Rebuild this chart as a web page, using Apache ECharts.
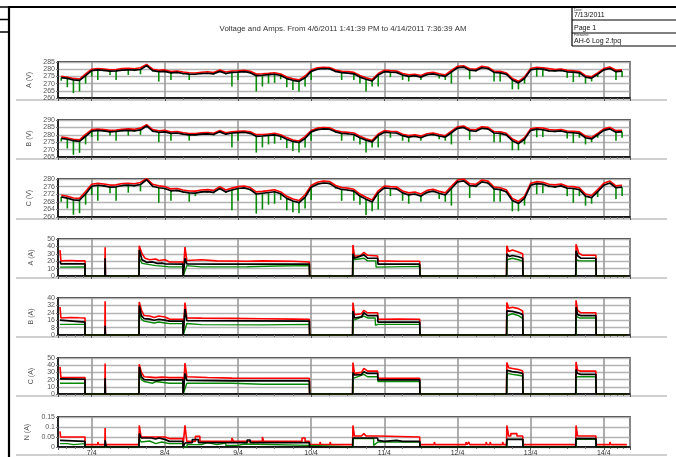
<!DOCTYPE html>
<html>
<head>
<meta charset="utf-8">
<title>Voltage and Amps</title>
<script src="https://cdn.jsdelivr.net/npm/echarts@6/dist/echarts.min.js"></script>
<style>
  html, body { margin: 0; padding: 0; background: #fff; }
  #chart { width: 676px; height: 457px; }
</style>
</head>
<body>
<div id="chart"></div>
<script>
// Log window: 6 Apr 2011 13:41:39 -> 14 Apr 2011 07:36:39 (hours counted from 6 Apr 00:00)
const DAY0 = Date.UTC(2011, 3, 6);
const X_MIN_H = 12.94;
const X_MAX_H = 200.6;

// Voltage logs: one sample every 2 hours starting 6 Apr 14:00
const VOLT_START_H = 14;
const VOLT_STEP_H = 2;

const voltsA_avg = [
  274.2, 273.6, 272.6, 272.2, 275.5,
  279.0, 279.5, 279.2, 278.6, 278.8, 279.4, 279.6, 279.3, 279.8, 282.5, 279.0, 278.3,
  278.5, 277.5, 277.8, 277.0, 276.6, 276.5, 277.0, 277.2, 276.8, 278.5, 277.0, 277.8,
  278.0, 278.3, 277.6, 275.5, 275.8, 276.2, 276.5, 275.6, 273.5, 272.3, 271.6, 274.0,
  278.5, 280.0, 280.5, 280.3, 278.5, 277.6, 277.3, 276.8, 274.5, 273.0, 271.8, 276.0,
  278.3, 278.0, 277.8, 276.0, 275.0, 275.5, 274.5, 276.3, 276.8, 275.8, 275.0, 278.0,
  281.0, 281.5, 279.3, 279.0, 281.0, 280.5, 277.8, 277.5, 276.5, 272.5, 270.5, 273.5,
  279.5, 280.3, 280.0, 279.0, 278.8, 279.2, 278.2, 278.0, 277.5, 274.5, 273.8, 276.5,
  279.5, 280.5, 278.3, 278.6
];
const voltsA_max = [
  275.0, 274.4, 273.6, 273.2, 276.8,
  280.0, 280.4, 280.1, 279.6, 279.8, 280.4, 280.6, 280.3, 281.0, 283.3, 280.0, 279.3,
  279.5, 278.4, 278.8, 278.0, 277.5, 277.4, 277.9, 278.2, 277.7, 279.4, 278.0, 278.7,
  278.9, 279.2, 278.6, 276.6, 276.8, 277.1, 277.5, 276.6, 274.6, 273.3, 272.6, 275.3,
  279.4, 281.0, 281.4, 281.2, 279.4, 278.6, 278.3, 277.8, 275.6, 274.0, 272.8, 277.0,
  279.3, 279.0, 278.8, 277.0, 276.1, 276.5, 275.6, 277.3, 277.8, 276.8, 276.0, 279.1,
  282.0, 282.4, 280.3, 280.0, 282.0, 281.4, 278.8, 278.5, 277.4, 273.6, 271.6, 274.6,
  280.5, 281.3, 281.0, 280.4, 279.8, 280.1, 279.2, 278.9, 278.4, 275.5, 274.8, 277.4,
  280.4, 281.5, 279.3, 279.5
];
const voltsA_min = [
  272.0, 267.5, 263.4, 264.5, 270.0,
  275.0, 272.5, 278.6, 276.0, 272.5, 278.8, 276.0, 278.7, 276.5, 281.9, 278.4, 271.4,
  277.9, 272.5, 277.2, 276.4, 272.5, 275.9, 276.4, 276.6, 276.2, 277.9, 276.4, 268.0,
  272.5, 277.7, 277.0, 264.5, 268.0, 270.0, 270.5, 273.0, 267.5, 265.5, 264.5, 268.0,
  272.5, 279.4, 279.9, 279.7, 277.9, 272.5, 276.7, 272.5, 270.0, 264.5, 268.0, 268.0,
  277.7, 274.5, 277.2, 272.5, 271.5, 274.9, 272.5, 275.7, 276.2, 273.5, 272.5, 270.0,
  280.4, 280.9, 273.0, 278.4, 280.4, 279.9, 271.5, 271.5, 275.9, 266.0, 266.0, 270.0,
  278.9, 274.8, 275.0, 278.4, 278.2, 278.6, 274.0, 271.0, 274.5, 270.0, 271.5, 274.5,
  278.9, 279.9, 272.5, 274.5
];

const voltsB_avg = [
  277.6, 277.0, 276.0, 275.6, 279.0,
  282.5, 283.0, 282.6, 282.0, 282.3, 282.8, 283.0, 282.7, 283.3, 286.0, 282.5, 281.7,
  282.0, 281.0, 281.2, 280.4, 280.0, 280.0, 280.4, 280.6, 280.2, 282.0, 280.4, 281.2,
  281.5, 281.7, 281.0, 279.0, 279.2, 279.6, 280.0, 279.0, 277.0, 275.5, 274.8, 277.5,
  282.0, 283.5, 284.0, 283.8, 282.0, 281.0, 280.7, 280.2, 278.0, 276.4, 275.2, 279.5,
  281.8, 281.4, 281.2, 279.4, 278.4, 279.0, 278.0, 279.7, 280.2, 279.2, 278.4, 281.4,
  284.4, 285.0, 282.8, 282.4, 284.4, 284.0, 281.2, 281.0, 280.0, 276.0, 274.0, 277.0,
  283.0, 283.8, 283.4, 282.5, 282.3, 282.6, 281.6, 281.4, 281.0, 278.0, 277.2, 280.0,
  283.0, 284.0, 281.8, 282.0
];
const voltsB_max = [
  278.5, 277.9, 277.0, 276.6, 280.3,
  283.5, 283.9, 283.5, 283.0, 283.2, 283.8, 284.0, 283.7, 284.5, 286.8, 283.5, 282.7,
  283.0, 281.9, 282.2, 281.4, 280.9, 280.9, 281.3, 281.6, 281.1, 282.9, 281.4, 282.1,
  282.4, 282.6, 282.0, 280.1, 280.2, 280.5, 281.0, 280.0, 278.1, 276.5, 275.8, 278.8,
  282.9, 284.5, 284.9, 284.8, 282.9, 282.0, 281.7, 281.2, 279.1, 277.4, 276.2, 280.5,
  282.8, 282.4, 282.2, 280.4, 279.5, 280.0, 279.1, 280.7, 281.2, 280.2, 279.4, 282.4,
  285.4, 286.0, 283.8, 283.4, 285.4, 285.0, 282.2, 282.0, 281.0, 277.1, 275.1, 278.1,
  284.0, 284.8, 284.6, 283.5, 283.2, 283.6, 282.6, 282.4, 282.0, 279.1, 278.2, 281.0,
  284.0, 285.0, 282.8, 283.0
];
const voltsB_min = [
  275.5, 270.8, 266.5, 267.8, 273.5,
  278.5, 276.0, 282.0, 279.5, 276.0, 282.2, 279.5, 282.1, 280.0, 285.4, 281.9, 275.0,
  281.4, 276.0, 280.6, 279.8, 276.0, 279.4, 279.8, 280.0, 279.6, 281.4, 279.8, 271.5,
  276.0, 281.1, 280.4, 268.0, 271.5, 273.5, 274.0, 276.5, 271.0, 269.0, 268.0, 271.5,
  276.0, 282.9, 283.4, 283.2, 281.4, 276.0, 280.1, 276.0, 273.5, 268.0, 271.5, 271.5,
  281.2, 278.0, 280.6, 276.0, 275.0, 278.4, 276.0, 279.1, 279.6, 277.0, 276.0, 273.5,
  283.8, 284.4, 276.5, 281.8, 283.8, 283.4, 275.0, 275.0, 279.4, 269.5, 269.5, 273.5,
  282.4, 278.3, 278.5, 281.9, 281.7, 282.0, 277.5, 274.5, 278.0, 273.5, 275.0, 278.0,
  282.4, 283.4, 276.0, 278.0
];

const voltsC_avg = [
  270.6, 269.9, 269.0, 268.8, 272.1,
  276.2, 276.7, 276.4, 275.7, 275.9, 276.6, 276.8, 276.5, 277.1, 279.6, 276.2, 275.4,
  275.0, 273.8, 274.0, 273.2, 272.7, 272.6, 273.2, 273.4, 273.0, 275.0, 273.2, 274.2,
  275.0, 275.3, 274.5, 272.1, 272.5, 272.9, 273.3, 272.2, 269.8, 268.4, 267.6, 270.4,
  275.6, 277.3, 277.9, 277.7, 275.6, 274.5, 274.2, 273.6, 271.0, 269.3, 267.9, 272.7,
  275.3, 275.0, 274.8, 272.7, 271.6, 272.1, 271.0, 273.0, 273.6, 272.5, 271.6, 275.0,
  278.5, 279.0, 276.5, 276.2, 278.5, 277.9, 274.8, 274.4, 273.3, 268.7, 267.2, 269.8,
  276.7, 277.6, 277.3, 276.2, 275.9, 276.4, 275.2, 275.0, 274.4, 271.0, 270.2, 273.3,
  276.7, 277.9, 275.4, 275.7
];
const voltsC_max = [
  271.6, 270.9, 270.0, 269.8, 273.4,
  277.2, 277.7, 277.4, 276.8, 276.9, 277.6, 277.8, 277.5, 278.2, 280.3, 277.2, 276.4,
  276.0, 274.8, 275.0, 274.2, 273.7, 273.6, 274.2, 274.4, 274.0, 276.0, 274.2, 275.2,
  276.0, 276.3, 275.5, 273.2, 273.5, 273.9, 274.3, 273.2, 270.9, 269.5, 268.7, 271.7,
  276.6, 278.3, 278.9, 278.7, 276.6, 275.5, 275.2, 274.6, 272.1, 270.4, 269.0, 273.8,
  276.3, 276.0, 275.8, 273.7, 272.7, 273.1, 272.1, 274.0, 274.6, 273.5, 272.7, 276.1,
  279.5, 280.0, 277.5, 277.2, 279.5, 278.9, 275.8, 275.4, 274.3, 269.8, 268.3, 270.9,
  277.7, 278.6, 278.3, 277.2, 276.9, 277.4, 276.2, 276.0, 275.4, 272.1, 271.3, 274.4,
  277.7, 278.9, 276.4, 276.7
];
const voltsC_min = [
  268.0, 264.5, 261.2, 262.0, 266.5,
  271.5, 268.5, 275.8, 272.5, 268.5, 276.0, 272.8, 275.9, 273.5, 279.0, 275.6, 267.5,
  274.4, 268.5, 273.4, 272.6, 268.0, 271.0, 272.6, 272.8, 272.4, 274.4, 272.6, 263.5,
  268.5, 274.7, 273.9, 261.8, 264.0, 266.5, 267.0, 269.0, 263.5, 262.5, 262.0, 264.5,
  269.0, 276.7, 277.3, 277.1, 275.0, 268.5, 273.6, 268.5, 266.5, 261.0, 263.0, 264.0,
  274.7, 271.0, 274.2, 268.5, 267.0, 271.5, 268.0, 272.4, 273.0, 269.5, 268.0, 266.0,
  277.9, 278.4, 270.0, 275.6, 277.9, 277.3, 268.0, 268.0, 272.7, 263.0, 263.0, 266.0,
  276.1, 272.0, 272.5, 275.6, 275.3, 275.8, 271.0, 267.5, 271.0, 266.0, 267.0, 270.5,
  276.1, 277.3, 269.5, 271.0
];

// Current logs: [hour, amps] change points
const ampsA_max = [[13.6,35],[13.9,20.5],[17,21],[19,20.5],[21.8,20.5],[21.8,0],[28.3,0],[28.4,39],[28.5,0],[39.5,0],[39.6,41],[40.5,30],[41.5,24],[43,22],[45,23],[46,21],[48,22],[49.5,19],[53.9,19],[54,0],[54.5,0],[54.6,39],[55.2,21],[60,22],[65,20.5],[75,20],[80,20.5],[90,20],[95.4,19],[95.5,0],[109.6,0],[109.7,42],[110.2,27],[112,27],[113.3,32],[114.5,28],[117.8,27],[117.9,20.5],[125,20],[131.6,20],[131.7,0],[160.1,0],[160.2,41],[160.8,33],[162,35],[163.5,33],[165.4,30],[165.5,0],[182.8,0],[182.9,43],[183.8,31],[185,28],[189.4,28],[189.5,0],[199.6,0]];
const ampsA_avg = [[13.6,20],[13.9,16.4],[21.8,16.4],[21.8,0],[28.3,0],[28.4,24],[28.5,0],[39.5,0],[39.6,35],[40.5,22],[42,18.5],[44,19],[45.5,17],[47,17.5],[48,16.5],[53.9,16],[54,0],[54.5,0],[54.6,24],[55.2,16.4],[65,16],[80,16],[95.4,16],[95.5,0],[109.6,0],[109.7,30],[110.2,24],[113.3,28.6],[114.5,24],[117.8,24],[117.9,16],[131.6,16],[131.7,0],[160.1,0],[160.2,30],[161,26.4],[162,27.7],[164,26],[165.4,24],[165.5,0],[182.8,0],[182.9,34],[183.5,27],[184.5,24],[189.4,24],[189.5,0],[199.6,0]];
const ampsA_min = [[13.6,12],[21.8,12.3],[21.8,0],[39.5,0],[39.6,24],[40.5,17],[42,16],[45,14],[48,13],[49.5,12.3],[53.9,12.3],[54,0],[54.6,0],[55.2,14],[60,12.3],[75,12.5],[85,13.5],[95.4,14],[95.5,0],[109.7,0],[109.8,22],[110.2,19.5],[113.3,24],[114.5,20.5],[117.2,20.5],[117.3,12],[117.9,13],[131.6,13],[131.7,0],[160.2,0],[160.3,22],[162,24],[164,22],[165.4,20],[165.5,0],[182.9,0],[183,22],[184,20.5],[189.4,20.5],[189.5,0],[199.6,0]];

const ampsB_max = [[13.6,30.3],[13.9,18.4],[17,19],[20,18.6],[21.8,18.4],[21.8,0],[28.3,0],[28.4,36.4],[28.5,0],[39.5,0],[39.6,35.7],[40.3,27],[41.2,21],[43,20.5],[44.5,19],[46,20.5],[48,19.5],[49.5,17.2],[53.9,17],[54,0],[54.5,0],[54.6,35],[55.2,18.5],[60,18.2],[70,18],[80,17.6],[90,17.2],[95.4,17],[95.5,0],[109.6,0],[109.7,35],[110.2,22],[112.5,23],[113.3,26.7],[114.5,24],[117.8,24],[117.9,17],[125,17.2],[131.6,17],[131.7,0],[160.1,0],[160.2,35],[160.8,29],[162,30],[164,28.5],[165.4,26],[165.5,0],[182.8,0],[182.9,37.5],[183.4,26.7],[184.5,24],[189.4,24],[189.5,0],[199.6,0]];
const ampsB_avg = [[13.6,16],[13.9,14],[21.8,14],[21.8,0],[28.3,0],[28.4,10],[28.5,0],[39.5,0],[39.6,32],[40.3,21],[41.2,17.6],[43,17.2],[44.5,15.9],[46,17],[48,16],[49.5,15],[53.9,15],[54,0],[54.5,0],[54.6,28],[55.2,15.5],[95.4,15],[95.5,0],[109.6,0],[109.7,26],[110.2,18.4],[112.5,19.5],[113.3,24],[114.5,21],[117.8,21],[117.9,14],[131.6,14],[131.7,0],[160.1,0],[160.2,26],[160.8,24],[162,25.6],[164,24],[165.4,22],[165.5,0],[182.8,0],[182.9,30],[183.4,22],[184.5,21],[189.4,21],[189.5,0],[199.6,0]];
const ampsB_min = [[13.6,11.5],[21.8,11.5],[21.8,0],[39.5,0],[39.6,24],[40.3,17],[41.2,15],[44.5,13],[46,14],[48,13],[49.5,12.3],[53.9,12.3],[54,0],[54.6,0],[55.2,12.5],[60,11.2],[80,11],[95.4,11.5],[95.5,0],[109.7,0],[109.8,15.9],[110.2,15.9],[113.3,20.5],[114.5,18.4],[117.0,18.4],[117.1,10.5],[117.9,11.5],[131.6,11.5],[131.7,0],[160.2,0],[160.3,21],[162,23],[164,21],[165.4,18],[165.5,0],[182.9,0],[183,20],[184,18.4],[189.4,18.4],[189.5,0],[199.6,0]];

const ampsC_max = [[13.6,37.7],[13.9,22.7],[21.8,22.7],[21.8,0],[28.3,0],[28.4,42.3],[28.5,0],[39.5,0],[39.6,41.4],[40.3,30],[41.2,24],[43,23.5],[45,22.7],[47,23.5],[49.5,22.7],[53.9,22.7],[54,0],[54.5,0],[54.6,43],[55.2,24],[62,23],[70,22],[80,21.8],[95.4,21.8],[95.5,0],[109.6,0],[109.7,43.6],[110.2,28.6],[112.5,30],[113.3,35.5],[114.5,31.8],[117.8,31.8],[117.9,21.8],[131.6,21.8],[131.7,0],[160.1,0],[160.2,43.6],[160.8,36.4],[162,35.5],[164,34],[165.4,32],[165.5,0],[182.8,0],[182.9,44.5],[183.4,33],[184.5,31.8],[189.4,31.8],[189.5,0],[199.6,0]];
const ampsC_avg = [[13.6,21],[13.9,20.5],[21.8,20.5],[21.8,0],[28.3,0],[28.4,21.8],[28.5,0],[39.5,0],[39.6,37.7],[40.3,24],[41.2,20],[43,19.5],[45,18.5],[47,19.5],[49.5,19.5],[53.9,19.5],[54,0],[54.5,0],[54.6,28.6],[55.2,19],[70,18.2],[95.4,18.2],[95.5,0],[109.6,0],[109.7,30],[110.2,26.4],[112.5,27],[113.3,31],[114.5,28.6],[117.8,28.6],[117.9,19.5],[131.6,19.5],[131.7,0],[160.1,0],[160.2,33],[160.8,31.8],[162,31],[164,30],[165.4,28.5],[165.5,0],[182.8,0],[182.9,34],[183.4,28.5],[184.5,27.3],[189.4,27.3],[189.5,0],[199.6,0]];
const ampsC_min = [[13.6,15],[21.8,15],[21.8,0],[39.5,0],[39.6,28.6],[40.3,20],[41.2,17.3],[44,15],[45,17.3],[49.5,15],[53.9,15],[54,0],[54.6,0],[55.2,15],[70,15],[80,13.6],[95.4,13.6],[95.5,0],[109.7,0],[109.8,21.8],[110.2,21.8],[113.3,27.3],[114.5,24],[117.8,24],[117.9,17.3],[131.6,17.3],[131.7,0],[160.2,0],[160.3,28.6],[162,27.3],[164,26],[165.4,25],[165.5,0],[182.9,0],[183,24],[189.4,24],[189.5,0],[199.6,0]];

const ampsN_max = [[13.6,0.078],[13.8,0.05],[16,0.05],[16,0.056],[16.6,0.056],[16.6,0.05],[18,0.05],[18,0.056],[18.6,0.056],[18.6,0.05],[21.8,0.05],[21.8,0.012],[26,0.012],[26,0.025],[26.3,0.025],[26.3,0.012],[28.3,0.012],[28.4,0.095],[28.5,0.012],[39.5,0.012],[39.6,0.108],[40.2,0.05],[41,0.05],[41,0.058],[41.6,0.058],[41.6,0.05],[43,0.05],[43,0.058],[43.6,0.058],[43.6,0.05],[45,0.05],[45,0.058],[45.6,0.058],[45.6,0.05],[48,0.05],[49.5,0.042],[53.9,0.042],[54,0.012],[54.5,0.012],[54.6,0.108],[55.2,0.028],[58,0.028],[58,0.053],[59.5,0.053],[59.5,0.028],[70,0.028],[70,0.045],[70.5,0.045],[70.5,0.028],[80,0.028],[80,0.05],[80.4,0.05],[80.4,0.028],[93,0.028],[93,0.045],[94,0.045],[94,0.028],[95.4,0.028],[95.5,0.012],[98.9,0.012],[98.9,0.025],[99.2,0.025],[99.2,0.012],[102.2,0.012],[102.2,0.025],[102.5,0.025],[102.5,0.012],[109.6,0.012],[109.7,0.108],[110.2,0.055],[112.5,0.055],[113.3,0.067],[114,0.055],[117.8,0.055],[117.9,0.05],[131.6,0.05],[131.7,0.012],[136.4,0.012],[136.4,0.025],[136.7,0.025],[136.7,0.012],[146.8,0.012],[146.8,0.025],[147.1,0.025],[147.1,0.012],[147.7,0.012],[147.7,0.025],[148,0.025],[148,0.012],[153.4,0.012],[153.4,0.025],[153.7,0.025],[153.7,0.012],[154.7,0.012],[154.7,0.025],[155,0.025],[155,0.012],[158.8,0.012],[158.8,0.025],[159.1,0.025],[159.1,0.012],[160.1,0.012],[160.2,0.108],[160.8,0.055],[161.5,0.055],[161.5,0.067],[163.5,0.067],[163.5,0.055],[165.4,0.055],[165.5,0.012],[182.8,0.012],[182.9,0.108],[183.4,0.055],[189.4,0.055],[189.5,0.012],[194,0.012],[194,0.025],[194.3,0.025],[194.3,0.012],[199.6,0.012]];
const ampsN_avg = [[13.6,0.033],[14,0.028],[21.8,0.028],[21.8,0],[28.3,0],[28.4,0.033],[28.6,0.012],[29,0],[39.5,0],[39.6,0.067],[40.2,0.045],[42,0.045],[42.5,0.035],[43.5,0.045],[45,0.04],[46,0.045],[48,0.038],[49.5,0.028],[53.9,0.028],[54,0],[54.5,0],[54.6,0.02],[55.2,0.022],[57,0.022],[57,0.037],[59,0.037],[59,0.022],[75,0.022],[75,0.035],[76,0.035],[76,0.022],[95.4,0.022],[95.5,0],[109.6,0],[109.7,0.045],[117.8,0.045],[117.9,0.033],[120,0.028],[124,0.033],[126,0.028],[131.6,0.028],[131.7,0],[160.1,0],[160.2,0.038],[165.4,0.038],[165.5,0],[182.8,0],[182.9,0.042],[189.4,0.042],[189.5,0],[199.6,0]];
const ampsN_min = [[13.6,0.017],[16,0.017],[16,0.012],[18,0.012],[18,0.017],[21.8,0.017],[21.8,0],[39.5,0],[39.6,0.042],[40.2,0.025],[43,0.03],[45,0.017],[47,0.025],[49.5,0.017],[53.9,0.017],[54,0],[55.2,0],[55.3,0.012],[60,0.012],[60,0.022],[62,0.022],[62,0.012],[65,0.012],[65,0.02],[68,0.02],[68,0.008],[72,0.008],[72,0.015],[74,0.015],[74,0.008],[95.4,0.008],[95.5,0],[109.7,0],[109.8,0.042],[116.5,0.042],[116.5,0.008],[117.9,0.025],[131.6,0.025],[131.7,0],[160.2,0],[160.3,0.038],[165.4,0.038],[165.5,0],[182.9,0],[183,0.038],[189.4,0.038],[189.5,0],[199.6,0]];

const RED = '#ff0000', BLACK = '#000000', GREEN = '#078a07';
const toTime = h => DAY0 + h * 3600e3;
const voltSeries = arr => arr.map((v, i) => [toTime(VOLT_START_H + i * VOLT_STEP_H), v]);
// each voltage sample: [time, minimum, average] -> drawn as a drop from the average down to the minimum
const voltDrops = (lo, mid) => lo.map((v, i) => [toTime(VOLT_START_H + i * VOLT_STEP_H), v, mid[i]]);
const ampSeries = arr => arr.map(p => [toTime(p[0]), p[1]]);

const panels = [
  { name: 'A (V)', min: 260, max: 285, interval: 5,  top: 62,  height: 36, volts: true, hi: voltSeries(voltsA_max), lo: voltDrops(voltsA_min, voltsA_avg), mid: voltSeries(voltsA_avg) },
  { name: 'B (V)', min: 265, max: 290, interval: 5,  top: 120, height: 37, volts: true, hi: voltSeries(voltsB_max), lo: voltDrops(voltsB_min, voltsB_avg), mid: voltSeries(voltsB_avg) },
  { name: 'C (V)', min: 260, max: 280, interval: 4,  top: 179, height: 38, volts: true, hi: voltSeries(voltsC_max), lo: voltDrops(voltsC_min, voltsC_avg), mid: voltSeries(voltsC_avg) },
  { name: 'A (A)', min: 0,   max: 50,  interval: 10, top: 239, height: 37, hi: ampSeries(ampsA_max),  lo: ampSeries(ampsA_min),  mid: ampSeries(ampsA_avg) },
  { name: 'B (A)', min: 0,   max: 40,  interval: 8,  top: 298, height: 37, hi: ampSeries(ampsB_max),  lo: ampSeries(ampsB_min),  mid: ampSeries(ampsB_avg) },
  { name: 'C (A)', min: 0,   max: 50,  interval: 10, top: 358, height: 36, hi: ampSeries(ampsC_max),  lo: ampSeries(ampsC_min),  mid: ampSeries(ampsC_avg) },
  { name: 'N (A)', min: 0,   max: 0.15, interval: 0.05, top: 417, height: 30, hi: ampSeries(ampsN_max), lo: ampSeries(ampsN_min), mid: ampSeries(ampsN_avg) }
];

const FONT = '"Liberation Sans", Arial, sans-serif';
const grids = [], xAxes = [], yAxes = [], series = [];
panels.forEach((p, i) => {
  const last = i === panels.length - 1;
  grids.push({ left: 58, right: 46, top: p.top, height: p.height, show: true,
    borderColor: '#000', borderWidth: 1.5, backgroundColor: 'transparent' });
  xAxes.push({
    type: 'time', gridIndex: i, min: toTime(X_MIN_H), max: toTime(X_MAX_H),
    splitNumber: 8, minInterval: 864e5, maxInterval: 864e5,
    axisLine: { show: true, lineStyle: { color: '#000', width: 1.5 } },
    axisTick: { show: true, length: 3, lineStyle: { color: '#555' } },
    minorTick: { show: true, splitNumber: 4, length: 2, lineStyle: { color: '#777' } },
    splitLine: { show: true, lineStyle: { color: '#9a9a9a', width: 1.6 } },
    axisLabel: {
      show: last, fontSize: 7, color: '#333', fontFamily: FONT, margin: 3, hideOverlap: false,
      formatter: v => { const d = new Date(v); return d.getUTCDate() + '/' + (d.getUTCMonth() + 1); }
    }
  });
  yAxes.push({
    type: 'value', gridIndex: i, min: p.min, max: p.max, interval: p.interval,
    name: p.name, nameLocation: 'middle', nameGap: 23, nameRotate: 90,
    nameTextStyle: { fontSize: 7, color: '#555', fontFamily: FONT },
    axisLine: { show: true, lineStyle: { color: '#000', width: 1.5 } },
    axisTick: { show: true, length: 2, lineStyle: { color: '#777' } },
    splitLine: { show: true, lineStyle: { color: '#b4b4b4', width: 1.3 } },
    axisLabel: { fontSize: 7, color: '#555', fontFamily: FONT, margin: 3 }
  });
  const common = { xAxisIndex: i, yAxisIndex: i, animation: false, silent: true };
  series.push(Object.assign({ type: 'line', showSymbol: false, symbol: 'none' }, common,
    { name: 'max', data: p.hi, lineStyle: { color: RED, width: 1.6 }, z: 2 }));
  if (p.volts) {
    series.push(Object.assign({ type: 'custom', clip: true }, common, {
      name: 'min', data: p.lo, z: 3,
      encode: { x: 0, y: [1, 2] },
      renderItem: (params, api) => {
        const low = api.coord([api.value(0), api.value(1)]);
        const top = api.coord([api.value(0), api.value(2)]);
        return { type: 'line', shape: { x1: low[0], y1: top[1], x2: low[0], y2: low[1] },
          style: { stroke: GREEN, lineWidth: 1.6 } };
      }
    }));
  } else {
    series.push(Object.assign({ type: 'line', showSymbol: false, symbol: 'none' }, common,
      { name: 'min', data: p.lo, lineStyle: { color: GREEN, width: 1.4 }, z: 3 }));
  }
  series.push(Object.assign({ type: 'line', showSymbol: false, symbol: 'none' }, common,
    { name: 'avg', data: p.mid, lineStyle: { color: BLACK, width: 1.7 }, z: 4 }));
});

// Page furniture: frame, header box, panel separators
const graphics = [
  { type: 'line', shape: { x1: 9, y1: 6, x2: 9, y2: 457 }, style: { stroke: '#000', lineWidth: 2.2 } },
  { type: 'line', shape: { x1: 8, y1: 7, x2: 676, y2: 7 }, style: { stroke: '#000', lineWidth: 2 } },
  { type: 'line', shape: { x1: 0, y1: 7, x2: 9, y2: 7 }, style: { stroke: '#000', lineWidth: 1.5 } },
  { type: 'line', shape: { x1: 0, y1: 19.5, x2: 9, y2: 19.5 }, style: { stroke: '#000', lineWidth: 1.5 } },
  { type: 'line', shape: { x1: 0, y1: 32, x2: 9, y2: 32 }, style: { stroke: '#000', lineWidth: 1.5 } },
  { type: 'line', shape: { x1: 572, y1: 7, x2: 572, y2: 46 }, style: { stroke: '#000', lineWidth: 1.2 } },
  { type: 'line', shape: { x1: 572, y1: 20, x2: 676, y2: 20 }, style: { stroke: '#000', lineWidth: 1.2 } },
  { type: 'line', shape: { x1: 572, y1: 33, x2: 676, y2: 33 }, style: { stroke: '#000', lineWidth: 1.2 } },
  { type: 'line', shape: { x1: 572, y1: 46, x2: 676, y2: 46 }, style: { stroke: '#000', lineWidth: 1.2 } },
  { type: 'text', x: 574, y: 10, style: { text: 'Date:', fontSize: 3.5, fill: '#333', fontFamily: FONT, verticalAlign: 'middle' } },
  { type: 'text', x: 574, y: 15.5, style: { text: '7/13/2011', fontSize: 7, fill: '#111', fontFamily: FONT, verticalAlign: 'middle' } },
  { type: 'text', x: 574, y: 28, style: { text: 'Page 1', fontSize: 7, fill: '#111', fontFamily: FONT, verticalAlign: 'middle' } },
  { type: 'text', x: 574, y: 35, style: { text: 'Filename:', fontSize: 3.5, fill: '#333', fontFamily: FONT, verticalAlign: 'middle' } },
  { type: 'text', x: 574, y: 41, style: { text: 'AH-6 Log 2.fpq', fontSize: 7, fill: '#111', fontFamily: FONT, verticalAlign: 'middle' } },
  { type: 'text', x: 343, y: 29, style: { text: 'Voltage and Amps. From 4/6/2011 1:41:39 PM to 4/14/2011 7:36:39 AM', fontSize: 7.8, fill: '#333', fontFamily: FONT, align: 'center', verticalAlign: 'middle' } }
];
[100, 159, 219, 278, 337, 396, 455].forEach(y => {
  graphics.push({ type: 'line', shape: { x1: 16, y1: y, x2: 667, y2: y }, style: { stroke: '#a0a0a0', lineWidth: 1.2 } });
});

const chart = echarts.init(document.getElementById('chart'), null, { renderer: 'canvas' });
chart.setOption({
  useUTC: true,
  animation: false,
  backgroundColor: '#fff',
  grid: grids,
  xAxis: xAxes,
  yAxis: yAxes,
  series: series,
  graphic: graphics
});
</script>
</body>
</html>
